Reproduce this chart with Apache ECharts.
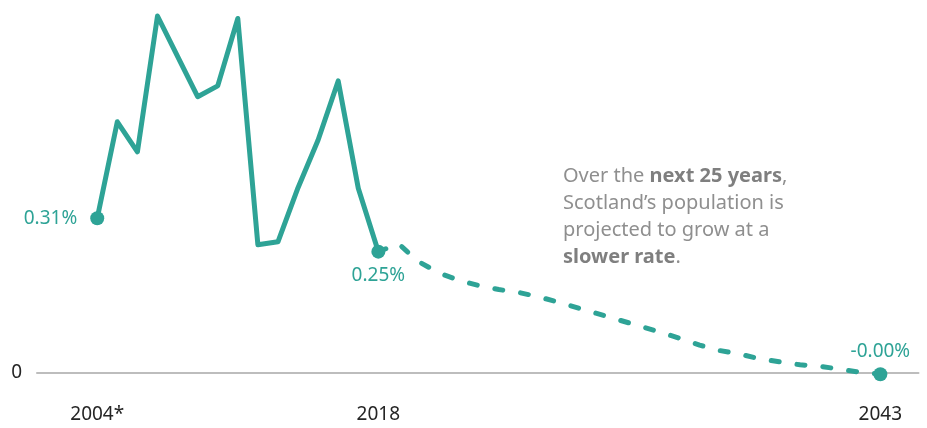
<!DOCTYPE html>
<html>
<head>
<meta charset="utf-8">
<script src="https://cdn.jsdelivr.net/npm/echarts@6/dist/echarts.min.js"></script>
<style>
html,body{margin:0;padding:0;background:#fff;}
#chart{width:927px;height:428px;}
</style>
</head>
<body>
<div id="chart"></div>
<script>
// Annual population growth rate (%), Scotland
const histYears = [2004,2005,2006,2007,2008,2009,2010,2011,2012,2013,2014,2015,2016,2017,2018];
const histValues = [0.314,0.510,0.449,0.725,0.643,0.561,0.583,0.720,0.260,0.266,0.376,0.473,0.593,0.375,0.246];
const projYears = [2018,2019,2020,2021,2022,2023,2024,2025,2026,2027,2028,2029,2030,2031,2032,2033,2034,2035,2036,2037,2038,2039,2040,2041,2042,2043];
const projValues = [0.246,0.262,0.226,0.203,0.188,0.177,0.169,0.163,0.154,0.143,0.131,0.119,0.107,0.095,0.083,0.070,0.056,0.045,0.038,0.028,0.022,0.016,0.013,0.007,0.001,-0.003];
const tickYears = [2004,2018,2043];
const tickLabels = ['2004*','2018','2043'];
const markYears = [2004,2018,2043];
const markValues = [0.314,0.246,-0.003];
const markPositions = ['left','bottom','top'];
const markDistances = [13,7,6];

const teal = '#2ea396';
const fontFam = '"Noto Sans", "Open Sans", sans-serif';

const chart = echarts.init(document.getElementById('chart'));
chart.setOption({
  animation: false,
  grid: {left: 37, right: 8.5, top: 3.7, height: 369, containLabel: false, outerBoundsMode: 'none'},
  xAxis: {
    type: 'value', min: 2001, max: 2044.9,
    splitLine: {show: false},
    axisTick: {show: false},
    axisLine: {show: true, onZero: true, lineStyle: {color: '#bdbdbd', width: 2}},
    axisLabel: {
      customValues: tickYears,
      margin: 32,
      color: '#252525', fontSize: 19, fontFamily: fontFam,
      formatter: v => tickLabels[tickYears.indexOf(v)] ?? ''
    }
  },
  yAxis: {
    type: 'value', min: 0, max: 0.75, interval: 0.05,
    splitLine: {show: false},
    axisLine: {show: false},
    axisTick: {show: false},
    axisLabel: {
      margin: 15, color: '#252525', fontSize: 19, fontFamily: fontFam,
      formatter: v => Math.abs(v) < 1e-9 ? '0' : ''
    }
  },
  series: [
    {
      type: 'line', data: projYears.map((y,i)=>[y, projValues[i]]),
      showSymbol: false, symbol: 'none', z: 2, clip: false,
      lineStyle: {color: teal, width: 5, type: [8,18], cap: 'round', join: 'round'}
    },
    {
      type: 'line', data: histYears.map((y,i)=>[y, histValues[i]]),
      showSymbol: false, symbol: 'none', z: 3, clip: false,
      lineStyle: {color: teal, width: 5, cap: 'round', join: 'round'}
    },
    {
      type: 'scatter', z: 4, symbolSize: 14, clip: false,
      itemStyle: {color: teal, opacity: 1},
      data: markYears.map((y,i)=>({
        value: [y, markValues[i]],
        label: {show: true, position: markPositions[i], distance: markDistances[i]}
      })),
      label: {
        color: teal, fontSize: 19, fontFamily: fontFam,
        formatter: p => p.value[1].toFixed(2) + '%'
      }
    }
  ],
  graphic: [{
    type: 'text', left: 563, top: 163,
    style: {
      text: 'Over the {b|next 25 years},\nScotland’s population is\nprojected to grow at a\n{b|slower rate}.',
      fill: '#8f8f8f', fontSize: 20, fontFamily: fontFam, lineHeight: 27,
      rich: {b: {fontWeight: 'bold', fill: '#7f7f7f', fontSize: 20, fontFamily: fontFam, lineHeight: 27}}
    }
  }]
});
</script>
</body>
</html>
